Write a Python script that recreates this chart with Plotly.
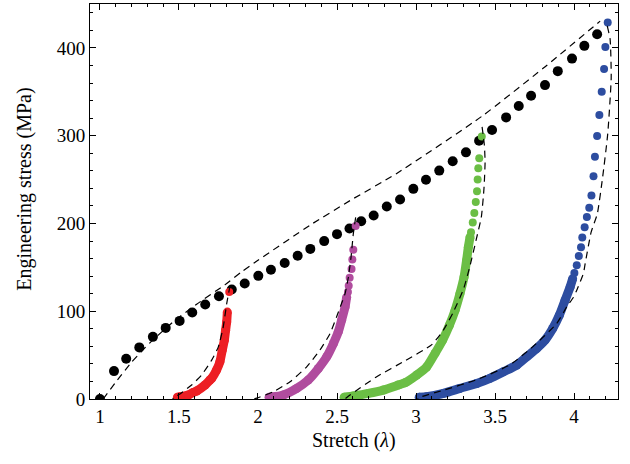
import plotly.graph_objects as go

# ---- data ----
load_x = [1.0, 1.089, 1.166, 1.249, 1.335, 1.416, 1.504, 1.584, 1.666, 1.753, 1.834, 1.916,
          2.002, 2.082, 2.169, 2.251, 2.331, 2.419, 2.5, 2.579, 2.653, 2.732, 2.815, 2.899,
          2.983, 3.063, 3.147, 3.232, 3.316, 3.399, 3.481, 3.570, 3.650, 3.728, 3.816, 3.897,
          3.987, 4.065, 4.146]
load_y = [0, 31.8, 45.8, 58.8, 70.8, 81.0, 89.0, 98.5, 107.6, 117.0, 124.7, 131.5,
          140.3, 147.2, 154.9, 163.1, 171.0, 179.9, 187.8, 194.3, 202.5, 209.1, 219.3, 227.3,
          239.4, 249.7, 260.2, 270.8, 281.0, 294.3, 306.5, 320.8, 333.8, 345.5, 357.6, 373.5,
          387.8, 402.3, 415.6]

red_dense_x = [1.49, 1.506, 1.559, 1.59, 1.612, 1.665, 1.696, 1.707, 1.738, 1.759, 1.774, 1.787, 1.795, 1.802, 1.806]
red_dense_y = [2, 2.5, 4.5, 7.5, 9.1, 15.9, 21.6, 23.5, 33, 42.5, 55.7, 67, 78.4, 87.8, 99]
red_top_x = [1.818]
red_top_y = [122]

mag_dense_x = [2.07, 2.087, 2.160, 2.245, 2.318, 2.382, 2.435, 2.477, 2.508, 2.529, 2.551, 2.561]
mag_dense_y = [2, 2.2, 4.5, 12.1, 21.6, 34.8, 48.1, 63.2, 76.5, 89.8, 104.9, 116]
mag_top_x = [2.569, 2.574, 2.580, 2.592, 2.597, 2.603, 2.618]
mag_top_y = [122, 129, 138, 148, 159, 170, 197]

grn_dense_x = [2.545, 2.603, 2.698, 2.793, 2.888, 2.93, 3.004, 3.067, 3.120, 3.168, 3.211, 3.247,
               3.278, 3.304, 3.320, 3.331, 3.342]
grn_dense_y = [2, 3.5, 6.4, 10.2, 15.9, 18.5, 27.3, 36.5, 51.9, 67, 84, 101,
               120, 139, 158, 173, 184.5]
grn_top_x = [3.348, 3.359, 3.369, 3.378, 3.386, 3.390, 3.394, 3.400, 3.416]
grn_top_y = [190, 201, 212, 224.5, 236.7, 250, 263, 274.3, 299]

blu_dense_x = [3.02, 3.067, 3.173, 3.278, 3.384, 3.468, 3.553, 3.637, 3.700, 3.764, 3.816,
               3.865, 3.907, 3.943, 3.975, 3.991]
blu_dense_y = [2, 2.6, 6.4, 12.1, 17.7, 23.5, 31, 38.6, 48, 57.6, 67,
               80.3, 95.5, 112.5, 127.6, 137]
blu_top_x = [4.002, 4.017, 4.030, 4.044, 4.052, 4.067, 4.081, 4.096, 4.110, 4.123, 4.132,
             4.146, 4.160, 4.175, 4.190, 4.198, 4.213]
blu_top_y = [143.6, 152.3, 163, 173, 184, 195.6, 207.4, 218, 231.8, 253.8, 276,
             299.6, 323.5, 350, 376, 401, 428.8]

model_load_x = [1.02, 1.095, 1.2, 1.316, 1.464, 1.612, 1.79, 1.897, 2.0, 2.329, 2.582, 2.878, 3.416, 3.806, 4.165]
model_load_y = [0, 18, 42, 64, 88, 108, 130, 145, 158, 198, 226, 257, 322, 377, 430.5]

model_red_x = [1.823, 1.802, 1.780, 1.749, 1.707, 1.643, 1.580, 1.517, 1.470, 1.46]
model_red_y = [129, 108.7, 82, 59.4, 44.3, 27.3, 15.9, 7.2, 1.5, 0]

model_mag_x = [2.618, 2.603, 2.589, 2.572, 2.551, 2.529, 2.497, 2.456, 2.392, 2.308, 2.203, 2.097, 1.992, 1.97]
model_mag_y = [207, 188, 162, 139, 120, 109, 93.5, 74.6, 55.7, 36.7, 19.7, 8.3, 1, 0]

model_grn_x = [3.418, 3.432, 3.437, 3.430, 3.413, 3.38, 3.342, 3.300, 3.236, 3.173, 3.10, 2.93, 2.751, 2.582, 2.55]
model_grn_y = [310, 290, 270, 240, 207, 181, 152, 125, 99, 78.4, 62, 43.5, 25.4, 4.5, 0]

model_blu_x = [4.21, 4.228, 4.235, 4.213, 4.181, 4.147, 4.108, 4.07, 4.059, 4.017, 3.996, 3.954,
               3.89, 3.742, 3.595, 3.384, 3.173, 3.025, 3.01]
model_blu_y = [425, 410, 366, 302, 253, 211, 190, 154, 143, 124, 116, 105,
               86, 60, 39, 22, 10, 2, 0]

x_ticks = [1, 1.5, 2, 2.5, 3, 3.5, 4]
x_tick_text = ["1", "1.5", "2", "2.5", "3", "3.5", "4"]
y_ticks = [0, 100, 200, 300, 400]

RED = "#ED1F24"
MAG = "#B04C9E"
GRN = "#6BBE45"
BLU = "#2D4DA0"
FONT = "Liberation Serif"

fig = go.Figure()

fig.add_trace(go.Scatter(x=load_x, y=load_y, mode="markers",
                         marker=dict(color="black", size=10, line=dict(width=0))))

for dx, dy, tx, ty, c in [
    (red_dense_x, red_dense_y, red_top_x, red_top_y, RED),
    (mag_dense_x, mag_dense_y, mag_top_x, mag_top_y, MAG),
    (grn_dense_x, grn_dense_y, grn_top_x, grn_top_y, GRN),
    (blu_dense_x, blu_dense_y, blu_top_x, blu_top_y, BLU),
]:
    fig.add_trace(go.Scatter(x=dx, y=dy, mode="lines+markers",
                             line=dict(color=c, width=9, shape="spline", smoothing=0.6),
                             marker=dict(color=c, size=9, line=dict(width=0))))
    fig.add_trace(go.Scatter(x=tx, y=ty, mode="markers",
                             marker=dict(color=c, size=8, line=dict(width=0))))

for mx, my in [(model_load_x, model_load_y), (model_red_x, model_red_y),
               (model_mag_x, model_mag_y), (model_grn_x, model_grn_y),
               (model_blu_x, model_blu_y)]:
    fig.add_trace(go.Scatter(x=mx, y=my, mode="lines",
                             line=dict(color="black", width=1.2, dash="7px,5px",
                                       shape="spline", smoothing=0.5)))

axis_common = dict(showline=True, linecolor="black", linewidth=1, mirror="ticks",
                   ticks="inside", ticklen=6, tickwidth=1, tickcolor="black",
                   showgrid=False, zeroline=False,
                   tickfont=dict(family=FONT, size=19, color="black"))

fig.update_xaxes(range=[0.937, 4.278], tickvals=x_ticks, ticktext=x_tick_text,
                 minor=dict(dtick=0.1, tick0=1, ticks="inside", ticklen=3, tickcolor="black", showgrid=False),
                 **axis_common)
fig.update_yaxes(range=[0, 450], tickvals=y_ticks,
                 minor=dict(dtick=20, tick0=0, ticks="inside", ticklen=3, tickcolor="black", showgrid=False),
                 **axis_common)

fig.update_layout(
    width=630, height=464,
    margin=dict(l=90, r=12, t=4, b=65),
    paper_bgcolor="white", plot_bgcolor="white",
    showlegend=False,
    font=dict(family=FONT, color="black"),
    annotations=[
        dict(text="Stretch (<i>λ</i>)", xref="paper", yref="paper", x=0.5, y=-0.104,
             xanchor="center", yanchor="middle", showarrow=False,
             font=dict(family=FONT, size=20, color="black")),
        dict(text="Engineering stress (MPa)", xref="paper", yref="paper", x=-0.123, y=0.53,
             xanchor="center", yanchor="middle", textangle=-90, showarrow=False,
             font=dict(family=FONT, size=20, color="black")),
    ],
)

fig.write_html("out.html", config={"displayModeBar": False},
               post_script="document.body.style.margin='0';")
